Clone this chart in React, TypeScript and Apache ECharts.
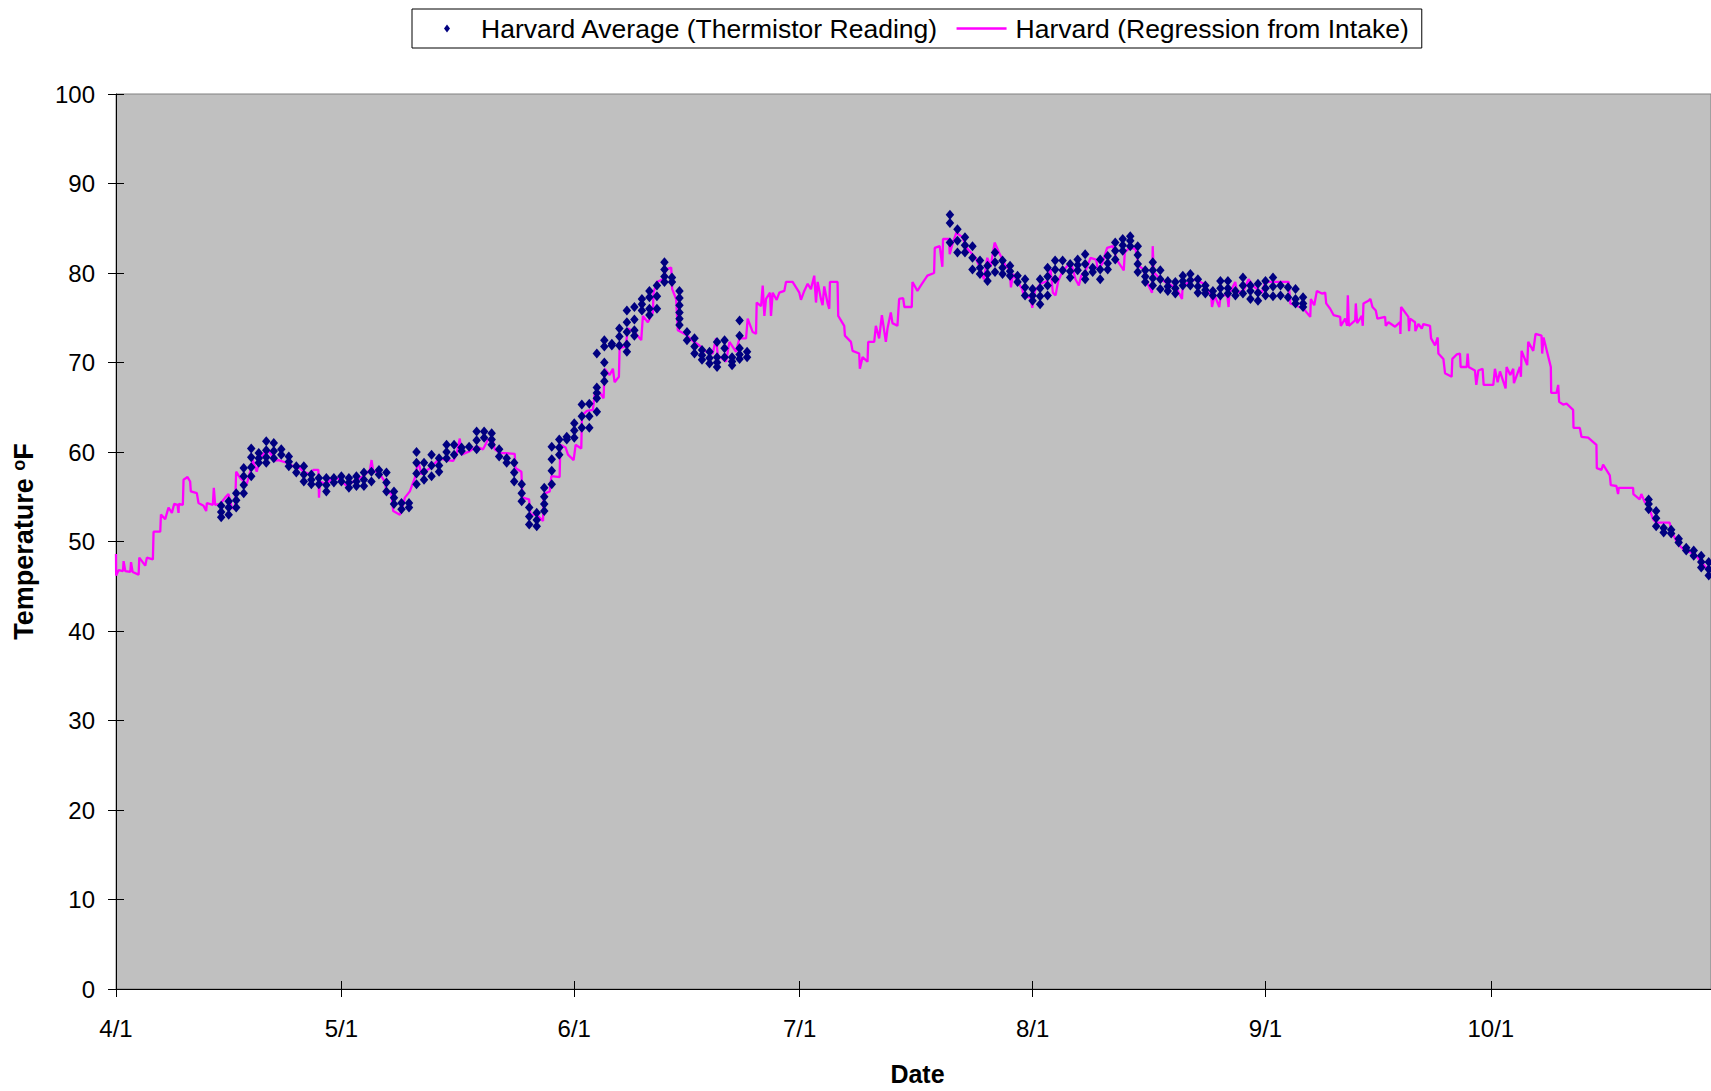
import React, { useEffect, useRef } from "react";
import * as echarts from "echarts";

// Day index counted from April 1 (4/1 = 0)
const monthTickDays = [0, 30, 61, 91, 122, 153, 183];
const monthTickLabels = ["4/1", "5/1", "6/1", "7/1", "8/1", "9/1", "10/1"];

const seriesNames = [
  "Harvard Average (Thermistor Reading)",
  "Harvard (Regression from Intake)",
];

// Regression from intake (magenta line), [day, °F]
const regressionApril: [number, number][] = [
  [0, 48.6], [0.02, 46.2], [0.35, 46.8], [0.93, 46.7], [1.01, 47.8], [1.24, 46.7], [1.9, 46.6], [2.0, 47.7],
  [2.21, 46.6], [3.01, 46.3], [3.1, 48.2], [3.89, 47.3], [4.11, 48.2], [4.91, 48.0], [5.0, 51.1], [5.89, 51.1],
  [5.98, 53.0], [6.55, 52.5], [6.99, 53.8], [7.44, 53.2], [7.75, 54.2], [8.19, 54.1], [8.32, 53.2], [8.37, 54.2],
  [8.9, 54.1], [8.99, 56.9], [9.52, 57.2], [9.87, 56.7], [9.96, 55.6], [10.76, 55.4], [10.98, 54.3], [11.65, 54.0],
  [12.0, 53.4], [12.09, 54.3], [12.89, 54.1], [13.02, 56.0], [13.2, 54.1], [13.86, 54.2], [14.53, 54.9], [14.97, 55.3],
  [15.41, 53.8], [15.85, 53.6], [15.99, 57.8], [16.52, 57.1], [17.4, 56.4], [17.85, 57.8], [18.2, 59.1], [18.73, 57.8],
  [19.18, 59.3], [20.06, 60.3], [20.7, 59.7], [20.95, 59.0], [21.61, 59.1], [22.72, 58.8], [23.6, 58.4], [24.49, 58.2],
  [24.94, 57.8], [25.82, 57.5], [26.27, 58.0], [26.93, 58.0], [27.02, 54.9], [27.15, 56.7], [28.04, 56.4], [28.92, 57.3],
  [29.81, 56.9], [30.7, 56.2], [31.58, 56.7], [32.91, 57.3], [33.8, 58.0], [34.02, 59.1], [34.24, 57.8], [34.9, 57.8],
  [35.79, 56.7], [36.01, 55.6], [36.68, 55.3], [36.9, 53.4], [37.78, 53.0], [38.0, 53.4], [38.45, 54.9], [39.11, 55.6],
  [39.78, 57.1], [40.22, 59.0], [40.66, 57.5], [41.77, 58.2], [43.1, 59.3], [43.99, 59.1], [44.87, 59.0], [45.31, 59.7],
  [45.76, 61.5], [45.98, 59.7], [47.09, 60.1], [47.97, 60.6], [48.86, 60.3], [49.52, 61.4], [50.19, 61.2], [50.41, 60.3],
  [51.07, 59.9],
];

const regressionJune: [number, number][] = [
  [53.07, 59.8], [53.16, 58.2], [53.96, 57.8], [54.09, 54.9], [54.98, 54.7], [55.16, 53.0], [55.95, 53.0], [56.84, 52.3],
  [56.93, 55.3], [57.73, 55.6], [57.95, 57.3], [59.05, 57.2], [59.14, 60.8], [59.85, 60.5], [60.16, 59.7], [60.91, 59.1],
  [61.18, 60.8], [61.93, 60.4], [62.02, 64.1], [62.69, 64.6], [63.48, 64.7], [63.71, 66.4], [64.37, 66.7], [64.9, 66.0],
  [65.03, 69.3], [65.7, 68.6], [66.14, 69.3], [66.36, 67.8], [66.94, 68.4], [67.03, 71.6], [67.83, 71.8], [68.14, 73.8],
  [69.02, 73.4], [69.91, 72.5], [70.13, 75.2], [70.79, 74.5], [71.46, 75.6], [71.55, 77.8], [71.99, 79.0], [72.79, 79.3],
  [73.23, 80.4], [73.9, 80.6], [74.03, 78.2], [74.56, 77.1], [74.78, 73.6], [75.89, 73.1], [76.77, 72.4], [77.66, 71.9],
  [78.55, 71.2], [79.43, 71.0], [79.88, 72.7], [80.1, 70.8], [81.2, 70.1], [81.65, 72.3], [82.53, 71.2], [82.98, 72.7],
  [83.86, 72.7], [84.08, 74.9], [84.75, 73.4], [85.19, 73.2], [85.28, 76.7], [85.86, 76.3], [86.08, 78.6], [86.3, 75.2],
  [86.52, 77.1], [87.05, 77.8], [87.18, 75.2], [87.41, 77.8], [87.94, 77.0], [88.29, 77.8], [88.96, 78.0], [89.18, 79.0],
  [90.06, 79.0], [90.95, 77.8], [91.17, 77.0], [91.61, 78.0], [92.06, 78.8], [92.5, 78.2], [92.94, 79.7], [93.17, 76.7],
  [93.39, 79.0], [93.83, 77.1], [94.05, 76.4], [94.27, 78.5], [94.72, 76.6], [94.94, 76.0], [95.03, 79.0], [96.04, 79.0],
  [96.13, 75.2], [96.93, 74.1], [97.02, 73.0], [97.82, 72.3], [98.04, 71.3], [98.92, 71.0], [99.01, 69.3], [99.37, 70.6],
  [100.03, 70.1], [100.12, 72.3], [100.92, 72.3], [101.14, 74.1], [101.58, 72.7], [101.94, 75.3], [102.47, 72.3], [102.69, 73.8],
  [103.13, 75.6], [103.35, 74.4],
];

const regressionJuly: [number, number][] = [
  [104.01, 74.1], [104.24, 77.1], [104.77, 77.2], [104.94, 76.2],
  [105.92, 76.2], [106.01, 79.0], [106.67, 78.0], [107.11, 78.6], [108.0, 79.7], [108.89, 80.0], [108.98, 82.8], [109.64, 83.0],
  [109.99, 80.7], [110.08, 83.8], [110.88, 83.8], [110.97, 82.1], [111.32, 83.2], [111.85, 84.5], [112.65, 84.0], [113.32, 82.7],
  [114.42, 81.7], [115.09, 80.4], [115.53, 79.3], [115.97, 81.7], [116.42, 80.7], [116.95, 83.4], [117.53, 82.3], [118.41, 80.8],
  [118.94, 80.4], [119.12, 78.4], [119.39, 79.9], [119.96, 79.1], [120.63, 78.2], [120.85, 77.3], [121.73, 77.3], [121.96, 76.1],
  [122.31, 78.0], [123.06, 78.8], [123.95, 79.1], [124.39, 80.4], [124.7, 77.8], [125.06, 77.5], [125.41, 79.1], [125.94, 80.1],
  [126.83, 81.0], [127.27, 80.7], [127.71, 79.3], [128.16, 78.6], [128.47, 79.7], [129.13, 80.4], [129.71, 81.7], [130.46, 81.5],
  [130.68, 80.4], [131.26, 81.0], [131.92, 82.8], [132.68, 83.0], [133.25, 81.4], [134.14, 80.3], [134.27, 82.3], [134.89, 82.8],
  [135.69, 82.7], [136.13, 80.8], [136.8, 80.4], [137.02, 79.3], [137.68, 78.2], [137.9, 77.8], [137.99, 83.0], [138.12, 80.1],
  [139.01, 79.3], [140.34, 78.7], [141.23, 78.2], [141.89, 77.1], [141.98, 78.6], [143.66, 79.3], [144.77, 78.8], [145.79, 77.5],
  [145.88, 76.2], [146.23, 77.5], [146.85, 76.2], [147.03, 77.5], [147.91, 77.5], [148.09, 76.2], [148.18, 77.7], [148.98, 79.0],
  [149.2, 77.8], [150.09, 78.0], [150.75, 79.3], [151.41, 78.5], [152.52, 77.8], [152.97, 79.0],
];

const regressionFall: [number, number][] = [
  [153.42, 79.0], [156.08, 79.0], [156.3, 76.6], [156.96, 76.4], [158.07, 76.0], [158.96, 75.1], [159.04, 77.1], [159.49, 76.4],
  [159.84, 78.0], [160.51, 77.7], [160.95, 77.8], [161.08, 76.6], [161.61, 76.0], [162.06, 75.3], [162.94, 75.1], [163.03, 74.1],
  [163.61, 74.9], [163.87, 74.1], [163.96, 77.5], [164.1, 74.1], [164.94, 74.7], [165.02, 76.6], [165.2, 74.4], [165.82, 75.2],
  [165.95, 74.1], [166.04, 76.6], [166.71, 76.9], [166.97, 77.1], [167.24, 76.2], [167.68, 75.8], [167.9, 74.9], [168.92, 75.1],
  [169.01, 74.1], [169.37, 74.5], [170.25, 74.0], [170.92, 74.5], [170.96, 73.2], [171.05, 76.2], [172.02, 75.1], [172.11, 73.5],
  [172.25, 74.9], [172.91, 74.5], [172.95, 73.5], [173.35, 74.3], [173.8, 73.8], [174.02, 74.3], [174.9, 74.1], [175.04, 72.7],
  [175.57, 71.9], [175.92, 72.8], [176.01, 71.0], [176.68, 70.4], [176.9, 68.8], [177.78, 68.4], [177.87, 70.4], [178.45, 70.9],
  [178.89, 71.0], [178.98, 69.5], [179.78, 69.5], [179.91, 71.0], [180.04, 69.5], [180.88, 69.1], [181.06, 67.5], [181.33, 69.1],
  [181.9, 69.3], [182.04, 67.5], [183.32, 67.5], [183.54, 69.3], [183.9, 67.8], [184.21, 69.0], [184.96, 67.1], [185.09, 69.5],
  [185.58, 68.6], [185.98, 69.3], [186.07, 67.7], [186.86, 69.5], [187.0, 68.4], [187.09, 71.3], [187.84, 69.7], [187.97, 72.3],
  [188.64, 71.3], [188.95, 73.2], [189.74, 73.0], [189.83, 71.0], [190.01, 72.8], [190.98, 69.5], [191.03, 66.6], [191.74, 66.6],
  [191.96, 67.5], [192.09, 65.6], [192.62, 65.3], [193.07, 65.4], [193.95, 64.7], [194.0, 62.7], [194.84, 62.7], [195.06, 61.7],
  [195.95, 61.6], [197.05, 60.8], [197.1, 58.2], [197.72, 58.0], [197.94, 58.6], [198.83, 57.4], [198.96, 56.3], [199.71, 56.2],
  [199.93, 55.3], [200.02, 56.0], [201.93, 56.0], [201.97, 55.3], [202.81, 54.7], [203.03, 55.3], [203.48, 54.4], [203.92, 54.1],
  [204.58, 52.5], [205.03, 52.1], [206.8, 52.1], [207.02, 51.2], [207.91, 49.7], [208.79, 49.0], [210.12, 48.6], [211.01, 47.7],
  [212.03, 46.7],
];

// Thermistor readings (navy diamonds): [day, readings of that day in °F]
const thermistorSpring: [number, number[]][] = [
  [14, [54.0, 53.3, 52.7]], [15, [54.5, 53.8, 53.0]], [16, [55.4, 54.6, 53.8]], [17, [58.2, 57.3, 56.3, 55.4]],
  [18, [60.4, 59.4, 58.3, 57.3]], [19, [59.9, 59.3, 58.8]], [20, [61.2, 60.2, 59.4, 58.8]], [21, [61.0, 60.1, 59.3]],
  [22, [60.3, 59.7]], [23, [59.5, 58.9, 58.4]], [24, [58.4, 57.7]], [25, [58.4, 57.5, 56.7]],
  [26, [57.5, 56.9, 56.4]], [27, [57.1, 56.4]], [28, [57.1, 56.3, 55.6]], [29, [57.1, 56.6]],
  [30, [57.3, 56.7]], [31, [57.1, 56.6, 56.0]], [32, [57.3, 56.7, 56.2]], [33, [57.7, 56.9, 56.2]],
  [34, [57.8, 56.7]], [35, [58.0, 57.5]], [36, [57.7, 56.6, 55.6]], [37, [55.6, 54.9, 54.2]],
  [38, [54.3, 53.6]], [39, [54.3, 53.8]], [40, [60.0, 58.8, 57.6, 56.4]], [41, [58.8, 57.8, 56.9]],
  [42, [59.7, 58.5, 57.3]], [43, [59.3, 58.5, 57.8]], [44, [60.8, 60.0, 59.3]], [45, [60.8, 59.7]],
  [46, [60.5, 60.1]], [47, [60.6]], [48, [62.3, 61.3, 60.3]], [49, [62.3, 61.6]],
  [50, [62.1, 61.4, 60.8]], [51, [60.3, 59.5]], [52, [59.3, 58.8]], [53, [58.8, 57.7, 56.7]],
  [54, [56.4, 55.4, 54.5]], [55, [53.8, 52.8, 51.9]], [56, [53.2, 52.4, 51.7]], [57, [56.0, 55.0, 54.2, 53.4]],
  [58, [60.6, 59.2, 57.9, 56.4]], [59, [61.4, 60.5, 59.7]], [60, [61.7, 61.4]], [61, [63.2, 62.4, 61.6]],
  [62, [65.3, 64.0, 62.7]], [63, [65.4, 64.0, 62.7]], [64, [71.0, 67.2, 66.6, 66.0, 64.5]], [65, [72.5, 71.8, 70.0, 68.8, 67.9]],
  [66, [72.1, 71.9]], [67, [73.8, 72.9, 71.9]], [68, [75.8, 74.5, 73.4, 72.0, 71.2]], [69, [76.2, 74.8, 73.6, 73.0]],
  [70, [77.1, 76.5, 75.8]], [71, [78.0, 77.3, 76.0, 75.3]], [72, [78.6, 77.4, 76.0]], [73, [81.2, 80.4, 79.6, 79.0]],
  [74, [79.5, 79.0]], [75, [78.0, 77.2, 76.4, 75.6, 74.9, 74.2]], [76, [73.4, 72.5]], [77, [72.7, 71.8, 71.0]],
  [78, [71.4, 70.8, 70.3]], [79, [71.2, 70.5, 69.9]], [80, [72.3, 70.6, 70.0, 69.5]], [81, [72.5, 71.6, 70.6]],
  [82, [70.6, 70.1, 69.7]], [83, [74.7, 73.0, 71.6, 70.9, 70.4]], [84, [71.2, 70.6]],
];

const thermistorSummer: [number, number[]][] = [
  [111, [86.5, 85.6, 83.4]], [112, [84.9, 83.6, 82.3]], [113, [84.0, 83.1, 82.3]], [114, [83.0, 81.7, 80.4]],
  [115, [81.4, 80.6, 79.9]], [116, [80.8, 79.9, 79.1]], [117, [82.3, 81.2, 80.1]], [118, [81.4, 80.6, 79.9]],
  [119, [80.8, 80.2, 79.7]], [120, [79.7, 79.0]], [121, [79.3, 78.4, 77.5]], [122, [78.2, 77.5, 76.9]],
  [123, [79.3, 78.3, 77.4, 76.5]], [124, [80.6, 79.6, 78.6, 77.5]], [125, [81.4, 80.4, 79.3]], [126, [81.4, 80.3]],
  [127, [81.0, 80.2, 79.5]], [128, [81.5, 80.9, 80.3]], [129, [82.1, 81.0, 79.9, 79.3]], [130, [80.6, 80.1]],
  [131, [81.5, 80.4, 79.3]], [132, [81.9, 81.1, 80.4]], [133, [83.4, 82.5, 81.5]], [134, [83.8, 83.1, 82.5]],
  [135, [84.1, 83.6, 83.0]], [136, [83.0, 82.0, 81.0, 80.1]], [137, [80.3, 79.6, 79.0]], [138, [81.2, 80.3, 79.4, 78.6]],
  [139, [80.3, 79.3, 78.2]], [140, [79.1, 78.5, 78.0]], [141, [79.0, 78.3, 77.7]], [142, [79.7, 79.1, 78.6]],
  [143, [79.9, 79.2, 78.6]], [144, [79.3, 78.5, 77.8]], [145, [78.6, 78.1, 77.7]], [146, [78.0, 77.5]],
  [147, [79.1, 78.3, 77.5]], [148, [79.1, 78.3, 77.7]], [149, [78.0, 77.5]], [150, [79.5, 78.6, 77.7]],
  [151, [78.6, 78.0, 77.1]], [152, [78.8, 77.8, 76.9]], [153, [79.1, 78.3, 77.5]], [154, [79.5, 78.5, 77.4]],
  [155, [78.6, 77.5]], [156, [78.4, 77.3]], [157, [78.2, 77.1, 76.6]], [158, [77.3, 76.6, 76.2]],
];

const thermistorFall: [number, number[]][] = [
  [204, [54.7, 54.2, 53.6]], [205, [53.4, 52.6, 51.7]], [206, [51.5, 51.0]], [207, [51.3, 50.9]],
  [208, [50.3, 49.9]], [209, [49.3, 49.0]], [210, [49.0, 48.4]], [211, [48.4, 47.7, 47.1]],
  [212, [47.7, 46.9, 46.2]],
];

const FONT = "'Liberation Sans', Arial, Helvetica, sans-serif";

export default function App() {
  const ref = useRef<HTMLDivElement>(null);

  useEffect(() => {
    if (!ref.current) return;
    const chart = echarts.init(ref.current, undefined, { renderer: "svg" });

    const regression = [...regressionApril, ...regressionJune, ...regressionJuly, ...regressionFall];
    const thermistor: [number, number][] = [];
    [...thermistorSpring, ...thermistorSummer, ...thermistorFall].forEach(([d, vals]) => {
      vals.forEach((v) => thermistor.push([d, v]));
    });

    const xMax = 212.3;
    const labelFor = (v: number) => {
      const i = monthTickDays.indexOf(Math.round(v));
      return i >= 0 ? monthTickLabels[i] : "";
    };

    const commonX = {
      type: "value" as const,
      min: 0,
      max: xMax,
      position: "bottom" as const,
      splitLine: { show: false },
    };
    const commonY = {
      type: "value" as const,
      min: 0,
      max: 100,
      interval: 10,
      position: "left" as const,
      splitLine: { show: false },
    };

    chart.setOption({
      animation: false,
      backgroundColor: "#ffffff",
      textStyle: { fontFamily: FONT },
      grid: {
        left: 116,
        top: 94,
        right: -2,
        bottom: 96,
        show: true,
        backgroundColor: "#C0C0C0",
        borderColor: "#808080",
        borderWidth: 1,
        containLabel: false,
      },
      legend: {
        left: 412,
        top: 9,
        orient: "horizontal",
        backgroundColor: "#ffffff",
        borderColor: "#000000",
        borderWidth: 1,
        borderRadius: 0,
        padding: [6, 13, 6, 10],
        itemWidth: 50,
        itemHeight: 14,
        itemGap: 18,
        textStyle: { fontSize: 26.5, color: "#000", fontFamily: FONT, padding: [0, 0, 0, 4] },
        data: [
          { name: seriesNames[0], icon: "path://M0,0M50,14M25,3L28,7L25,11L22,7Z" },
          { name: seriesNames[1], icon: "path://M0,0M50,14M0,5.8L50,5.8L50,8.2L0,8.2Z" },
        ],
      },
      xAxis: [
        {
          ...commonX,
          axisLine: { show: true, lineStyle: { color: "#000", width: 1 } },
          axisTick: { show: true, length: 8, customValues: monthTickDays, lineStyle: { color: "#000" } },
          axisLabel: {
            show: true,
            customValues: monthTickDays,
            formatter: labelFor,
            fontSize: 24,
            color: "#000",
            fontFamily: FONT,
            margin: 27,
          },
          name: "Date",
          nameLocation: "middle",
          nameGap: 72,
          nameTextStyle: { fontSize: 25, fontWeight: "bold", color: "#000", fontFamily: FONT, padding: [0, 0, 0, 8] },
        },
        {
          ...commonX,
          axisLine: { show: false },
          axisTick: { show: true, inside: true, length: 8, customValues: monthTickDays, lineStyle: { color: "#000" } },
          axisLabel: { show: false },
        },
      ],
      yAxis: [
        {
          ...commonY,
          axisLine: { show: true, lineStyle: { color: "#000", width: 1 } },
          axisTick: { show: true, length: 8, lineStyle: { color: "#000" } },
          axisLabel: { fontSize: 24, color: "#000", fontFamily: FONT, margin: 21 },
          name: "Temperature {sup|o}F",
          nameLocation: "middle",
          nameRotate: 90,
          nameGap: 79,
          nameTextStyle: {
            fontSize: 27,
            fontWeight: "bold",
            color: "#000",
            fontFamily: FONT,
            rich: {
              sup: { fontSize: 18, fontWeight: "bold", color: "#000", fontFamily: FONT, verticalAlign: "top", lineHeight: 18 },
            },
          },
        },
        {
          ...commonY,
          axisLine: { show: false },
          axisTick: { show: true, inside: true, length: 8, lineStyle: { color: "#000" } },
          axisLabel: { show: false },
        },
      ],
      series: [
        {
          name: seriesNames[1],
          type: "line",
          xAxisIndex: 0,
          yAxisIndex: 0,
          data: regression,
          symbol: "none",
          showSymbol: false,
          lineStyle: { color: "#FF00FF", width: 2.3 },
          itemStyle: { color: "#FF00FF" },
          z: 2,
        },
        {
          name: seriesNames[0],
          type: "scatter",
          xAxisIndex: 0,
          yAxisIndex: 0,
          data: thermistor,
          symbol: "diamond",
          symbolSize: [8.5, 10],
          itemStyle: { color: "#000080", opacity: 1 },
          z: 3,
        },
      ],
    });

    return () => chart.dispose();
  }, []);

  return (
    <div
      ref={ref}
      style={{ position: "absolute", left: 0, top: 0, width: 1711, height: 1091, background: "#fff" }}
    />
  );
}
